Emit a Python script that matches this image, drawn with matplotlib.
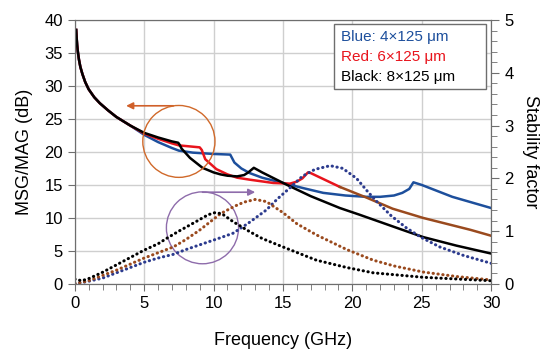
import numpy as np
import matplotlib
matplotlib.use("Agg")
from matplotlib import pyplot as plt
from matplotlib.patches import Ellipse, Rectangle

plt.rcParams['font.family'] = ['Liberation Sans', 'DejaVu Sans']

# MSG/MAG (dB)
# common low-frequency part (all three curves overlap there)
f_start = [0.1, 0.13, 0.17, 0.22, 0.3, 0.4, 0.55, 0.75, 1.0, 1.4, 1.8, 2.4, 3.0, 4.0]
msg_start = [38.5, 37.4, 36.2, 35.2, 34.0, 32.9, 31.8, 30.6, 29.5, 28.3, 27.4, 26.3, 25.3, 24.0]

f_black = [5.0, 6.0, 7.0, 7.45, 7.55, 7.7, 8.3, 9.2, 10.0, 10.5, 11.0, 11.7,
           12.2, 12.5, 12.9, 13.5, 15.3, 17.0, 19.1, 20.5, 23.6, 25.1, 27.5, 30.0]
msg_black = [22.9, 22.2, 21.6, 21.4, 21.1, 20.5, 19.1, 17.6, 16.9, 16.6,
             16.4, 16.3, 16.5, 16.9, 17.6, 16.9, 15.0, 13.3, 11.5, 10.5, 8.2, 7.1, 5.8, 4.6]

f_red = [5.0, 6.0, 7.0, 7.5, 8.5, 9.0, 9.15, 9.4, 10.2, 11.0, 11.7, 12.6,
         14.3, 15.5, 16.0, 16.4, 16.8, 17.0, 19.1]
msg_red = [22.8, 22.0, 21.3, 21.0, 20.8, 20.7, 20.3, 18.9, 17.4, 16.6,
           16.1, 15.8, 15.3, 15.2, 15.5, 16.0, 16.9, 16.8, 14.7]
# same red curve, tail drawn brown
f_red_tail = [19.1, 21.0, 22.9, 25.1, 28.5, 30.0]
msg_red_tail = [14.7, 13.1, 11.4, 10.0, 8.2, 7.3]

f_blue = [5.0, 6.0, 7.0, 7.5, 8.5, 10.0, 11.2, 11.5, 12.0, 12.6, 13.5, 15.0,
          16.5, 17.9, 19.5, 21.0, 22.0, 23.0, 23.6, 24.1, 24.4, 25.0, 27.2, 30.0]
msg_blue = [22.6, 21.5, 20.6, 20.2, 19.9, 19.7, 19.6, 18.4, 17.5, 16.8,
            16.1, 15.3, 14.5, 13.8, 13.4, 13.2, 13.2, 13.4, 13.8, 14.4, 15.4, 15.0, 13.2, 11.5]

# stability factor
f_k_black = [0.0, 0.5, 1.0, 2.0, 3.0, 4.0, 5.0, 6.0, 6.6, 7.5, 8.8, 9.6, 10.1, 10.6, 11.4, 12.6, 13.5, 15.0, 17.4,
             19.6, 21.5, 25.1, 30.0]
k_black = [0.09, 0.06, 0.10, 0.22, 0.36, 0.50, 0.64, 0.76, 0.86, 1.00, 1.19, 1.31, 1.35, 1.33, 1.18, 0.99, 0.86, 0.70,
           0.45, 0.31, 0.21, 0.125, 0.06]

f_k_red = [0.0, 0.5, 1.0, 2.0, 3.0, 4.0, 5.0, 6.0, 7.1, 8.0, 9.0, 10.5, 11.5, 12.2, 13.0, 13.8, 15.0, 16.0, 17.4, 19.6,
           21.5, 23.0, 25.1, 27.5, 30.0]
k_red = [0.01, 0.03, 0.06, 0.16, 0.26, 0.375, 0.49, 0.59, 0.70, 0.84, 1.02, 1.33, 1.47, 1.55, 1.60, 1.56, 1.35, 1.14,
         0.93, 0.65, 0.45, 0.34, 0.225, 0.14, 0.075]

f_k_blue = [0.0, 1.0, 2.0, 3.0, 4.0, 5.0, 6.0, 7.1, 8.0, 9.0, 10.5, 11.4, 12.5, 13.8, 14.6, 15.5, 16.4, 17.3, 18.4,
            19.3, 20.3, 21.1, 21.8, 22.8, 23.9, 25.0, 26.3, 28.0, 30.0]
k_blue = [0.0, 0.05, 0.11, 0.21, 0.31, 0.41, 0.49, 0.56, 0.65, 0.74, 0.875, 0.96, 1.15, 1.40, 1.61, 1.82, 2.04, 2.17,
          2.24, 2.19, 2.0, 1.75, 1.55, 1.29, 1.06, 0.875, 0.70, 0.54, 0.39]

BLUE = '#1d4f9c'
NAVY = '#2c3b8e'
RED = '#e8141c'
BROWN = '#9a4a1e'
DOTS = (0, (0.1, 1.5))

fig = plt.figure(figsize=(5.5, 3.58), dpi=100)
ax = fig.add_axes([0.136, 0.207, 0.757, 0.737])
ax2 = ax.twinx()

ax.plot(f_start + f_blue, msg_start + msg_blue, color=BLUE, lw=1.8)
ax.plot(f_start + f_red, msg_start + msg_red, color=RED, lw=1.8)
ax.plot(f_red_tail, msg_red_tail, color=BROWN, lw=1.8)
ax.plot(f_start + f_black, msg_start + msg_black, color='black', lw=1.8)

ax2.plot(f_k_blue, k_blue, color=NAVY, lw=2.2, ls=DOTS, dash_capstyle='round')
ax2.plot(f_k_red, k_red, color=BROWN, lw=2.2, ls=DOTS, dash_capstyle='round')
ax2.plot(f_k_black, k_black, color='black', lw=2.2, ls=DOTS, dash_capstyle='round')

ax.set_xlim(0, 30)
ax.set_ylim(0, 40)
ax2.set_ylim(0, 5)
ax.set_xticks(range(0, 31, 5))
ax.set_xticks(range(0, 31), minor=True)
ax.set_yticks(range(0, 41, 5))
ax2.set_yticks(range(0, 6))
ax2.set_yticks(np.arange(0, 5.01, 0.2), minor=True)
ax.grid(True, color='#cfcfcf', lw=1.0)
ax.set_axisbelow(True)

for a in (ax, ax2):
    for s in a.spines.values():
        s.set_color('#6e6e6e')
ax.tick_params(axis='both', which='major', labelsize=12, color='#6e6e6e', length=5, direction='out')
ax.tick_params(axis='x', which='minor', color='#6e6e6e', length=4)
ax2.tick_params(axis='y', which='major', labelsize=12, color='#6e6e6e', length=6)
ax2.tick_params(axis='y', which='minor', color='#6e6e6e', length=4)

ax.set_xlabel('Frequency (GHz)', fontsize=13, labelpad=15)
ax.set_ylabel('MSG/MAG (dB)', fontsize=13, labelpad=8)
ax2.set_ylabel('Stability factor', fontsize=13, rotation=270, labelpad=18)

# annotations: circles with arrows
ax.add_patch(Ellipse((7.5, 21.6), 5.2, 10.9, fill=False, ec='#d0692a', lw=1.0, zorder=5))
ax.annotate('', xy=(3.5, 27.0), xytext=(7.3, 27.0),
            arrowprops=dict(arrowstyle='-|>', color='#d0602a', lw=1.2, mutation_scale=10))
ax.add_patch(Ellipse((9.2, 8.5), 5.2, 10.9, fill=False, ec='#8e6cab', lw=1.0, zorder=5))
ax.annotate('', xy=(13.2, 13.9), xytext=(9.0, 13.9),
            arrowprops=dict(arrowstyle='-|>', color='#8e6cab', lw=1.2, mutation_scale=10))

# legend box
ax2.add_patch(Rectangle((0.623, 0.739), 0.365, 0.246, transform=ax.transAxes, fill=True, fc='white',
                        ec='#6e6e6e', lw=1.0, zorder=6))
ax2.text(0.639, 0.935, 'Blue: 4×125 μm', color=BLUE, fontsize=11, transform=ax.transAxes, va='center', zorder=7)
ax2.text(0.639, 0.860, 'Red: 6×125 μm', color=RED, fontsize=11, transform=ax.transAxes, va='center', zorder=7)
ax2.text(0.639, 0.784, 'Black: 8×125 μm', color='black', fontsize=11, transform=ax.transAxes, va='center', zorder=7)

fig.savefig('out.png', dpi=100)
